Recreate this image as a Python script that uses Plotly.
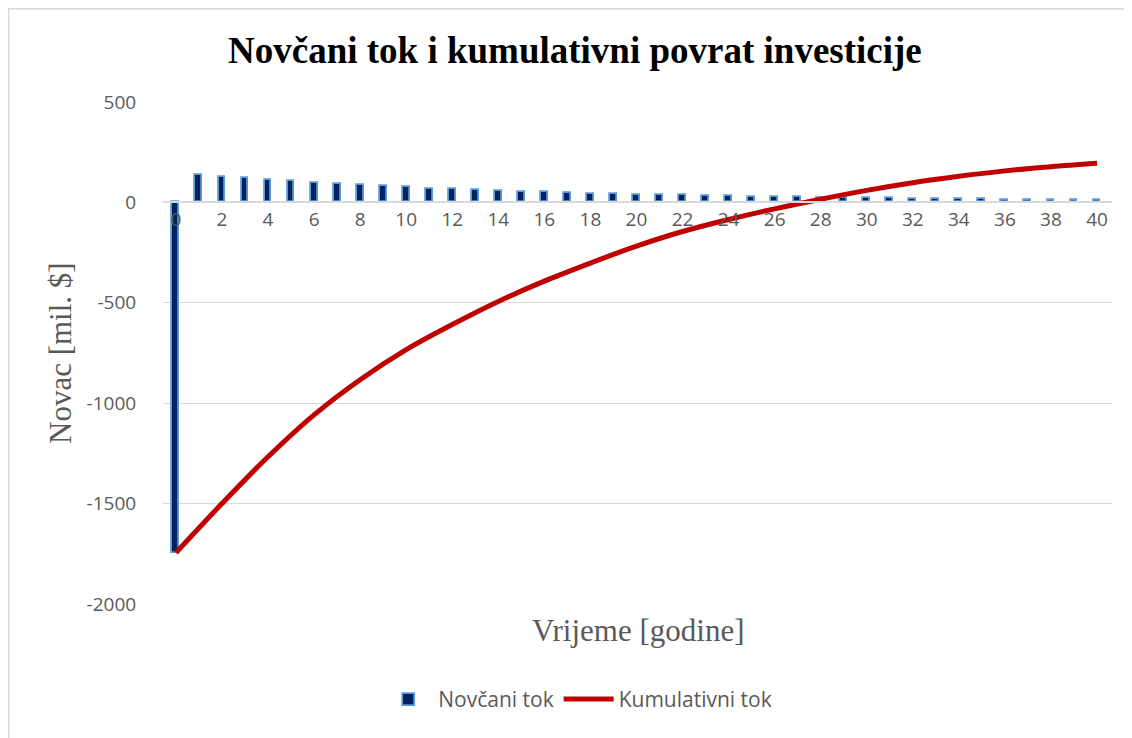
import plotly.graph_objects as go

years = list(range(0, 41))
cash_flow = [-1748, 137, 128, 120, 112, 105, 98, 92, 87, 80, 75,
             69, 65, 60, 57, 53, 50, 47, 43, 42, 39,
             37, 35, 33, 31, 29, 27, 25, 24, 22, 21,
             20, 18, 17, 16, 15, 14, 13, 12, 12, 11]

cum_years = [0, 2, 4, 6, 8, 10, 12, 14, 16, 18, 20,
             22, 24, 26, 28, 30, 32, 34, 36, 38, 40]
cumulative = [-1745, -1500, -1267, -1058, -883, -733, -608, -493, -392, -302, -218,
              -145, -85, -32, 16, 60, 98, 130, 157, 178, 195]

y_ticks = [-2000, -1500, -1000, -500, 0, 500]
x_ticks = list(range(0, 41, 2))

TICK_FONT = dict(family="Open Sans", size=19, color="#595959")
LEGEND_FONT = dict(family="Open Sans", size=21, color="#595959")

# plot area in figure pixels (page adds 8px offset)
L, R, T, B = 155, 28, 94, 142
PW, PH = 1132 - L - R, 738 - T - B

fig = go.Figure()
fig.add_trace(go.Bar(
    x=years, y=cash_flow, name="Novčani tok", width=0.3,
    marker=dict(color="#002060", line=dict(color="#5B9BD5", width=1.8)),
))
fig.add_trace(go.Scatter(
    x=cum_years, y=cumulative, name="Kumulativni tok", mode="lines",
    line=dict(color="#C00000", width=5, shape="spline"),
))

fig.update_layout(
    width=1132, height=738,
    margin=dict(l=L, r=R, t=T, b=B),
    paper_bgcolor="white", plot_bgcolor="white",
    showlegend=True,
    legend=dict(orientation="h", x=0.437, xanchor="center", y=-0.19, yanchor="middle",
                font=LEGEND_FONT, itemwidth=50, traceorder="normal"),
    xaxis=dict(range=[-0.56, 40.65], tickvals=x_ticks, ticktext=[str(v) for v in x_ticks],
               anchor="free", position=0.8, showgrid=False, zeroline=False,
               showline=True, linecolor="#D9D9D9", linewidth=1.5,
               ticks="", tickfont=TICK_FONT),
    yaxis=dict(range=[-2000, 500], tickvals=y_ticks, ticktext=[str(v) for v in y_ticks],
               showgrid=True, gridcolor="#D9D9D9", gridwidth=1, zeroline=False,
               ticks="outside", ticklen=22, tickcolor="rgba(0,0,0,0)",
               tickfont=TICK_FONT),
    bargap=0,
)

fig.add_annotation(text="<b>Novčani tok i kumulativni povrat investicije</b>",
                   xref="paper", yref="paper", x=(567 - L) / PW, y=(T + PH - 42) / PH,
                   xanchor="center", yanchor="middle", showarrow=False,
                   font=dict(family="Liberation Serif", size=37, color="black"))
fig.add_annotation(text="Vrijeme [godine]", xref="paper", yref="paper",
                   x=0.5, y=-0.052, xanchor="center", yanchor="middle", showarrow=False,
                   font=dict(family="Liberation Serif", size=31, color="#595959"))
fig.add_annotation(text="Novac [mil. $]", xref="paper", yref="paper",
                   x=(52 - L) / PW, y=0.5, xanchor="center", yanchor="middle",
                   textangle=-90, showarrow=False,
                   font=dict(family="Liberation Serif", size=31, color="#595959"))

fig.add_shape(type="rect", xref="paper", yref="paper",
              x0=(0.75 - L) / PW, x1=1.1, y0=-0.4, y1=(T + PH - 0.75) / PH,
              line=dict(color="#D9D9D9", width=1.5), fillcolor="rgba(0,0,0,0)", layer="below")

fig.write_html("out.html")
